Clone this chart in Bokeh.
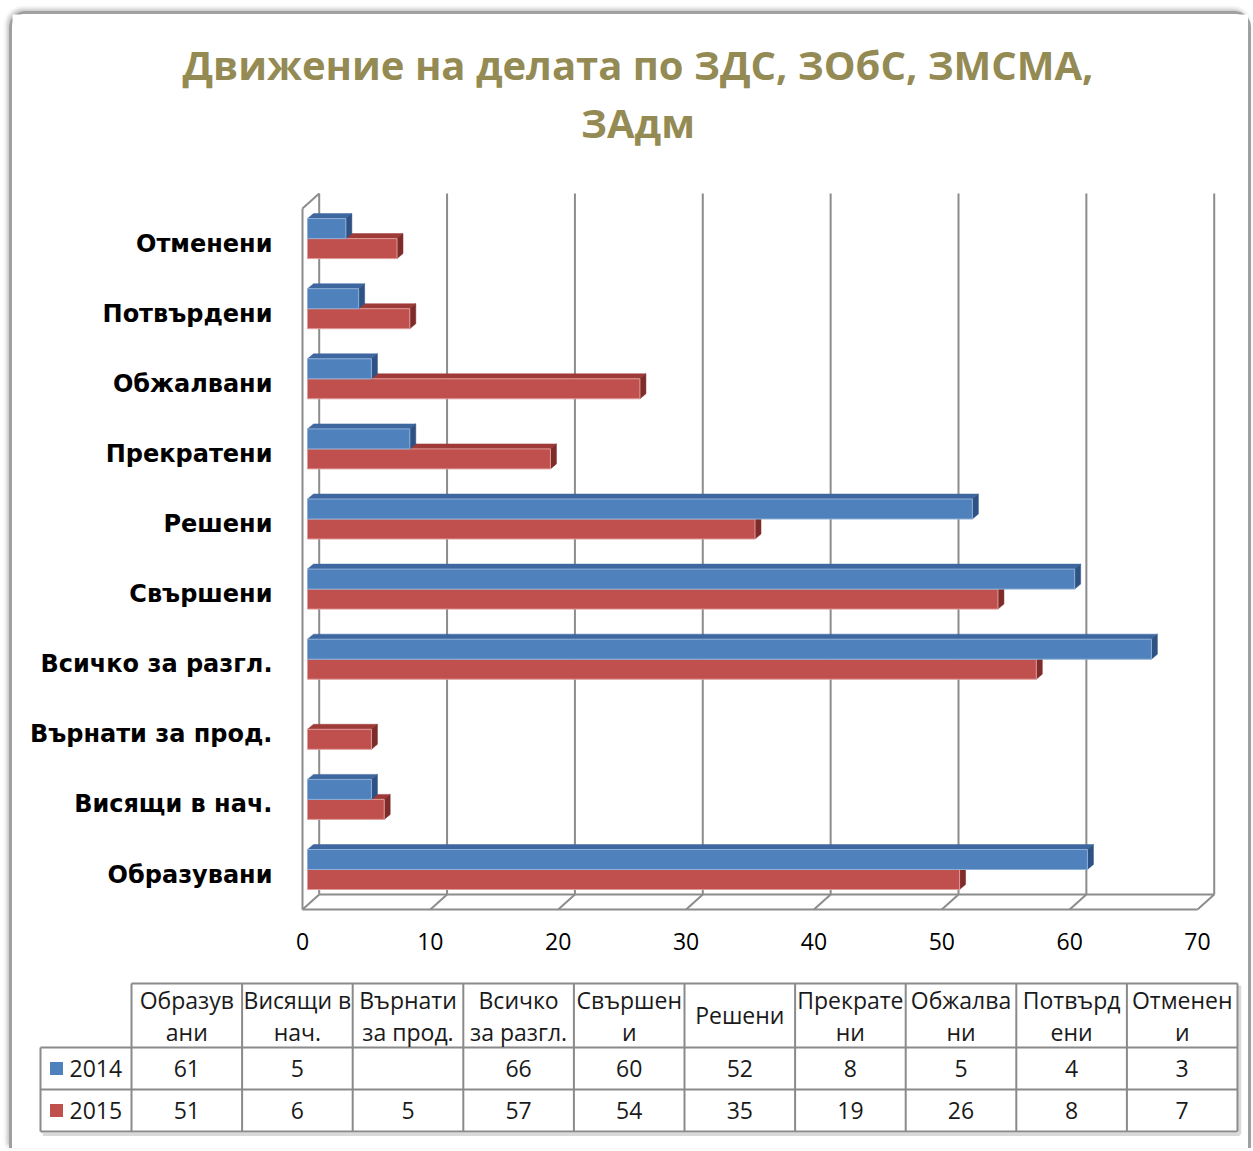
import numpy as np
from bokeh.plotting import figure
from bokeh.layouts import column
from bokeh.models import FixedTicker, Range1d
from bokeh.core.properties import value
from bokeh.embed import file_html
from bokeh.resources import INLINE

# ---------------- data ----------------
categories = ["Образувани", "Висящи в нач.", "Върнати за прод.", "Всичко за разгл.",
              "Свършени", "Решени", "Прекратени", "Обжалвани", "Потвърдени", "Отменени"]
series_names = ["2014", "2015"]
values_2014 = [61, 5, None, 66, 60, 52, 8, 5, 4, 3]
values_2015 = [51, 6, 5, 57, 54, 35, 19, 26, 8, 7]
x_ticks = [0, 10, 20, 30, 40, 50, 60, 70]
header_line1 = ["Образув", "Висящи в", "Върнати", "Всичко", "Свършен", "Решени",
                "Прекрате", "Обжалва", "Потвърд", "Отменен"]
header_line2 = ["ани", "нач.", "за прод.", "за разгл.", "и", "", "ни", "ни", "ени", "и"]
title_lines = ["Движение на делата по ЗДС, ЗОбС, ЗМСМА,", "ЗАдм"]

# ---------------- styles ----------------
BLUE, BLUE_TOP, BLUE_SIDE, BLUE_EDGE = "#4F81BD", "#3E67A0", "#2E5283", "#8FAFD6"
RED, RED_TOP, RED_SIDE, RED_EDGE = "#C0504D", "#9E3B38", "#7E2C2A", "#DE9C9A"
GRID = "#8C8C8C"
TITLE_COLOR = "#948A54"


def no_align(fig):
    if "frame_align" in fig.properties():
        fig.frame_align = False


# ---------------- page geometry ----------------
PAGE_X0, PAGE_Y0 = 12, 14          # top-left of the figures on the page
FIG_W = 1236
TITLE_BOTTOM = 176
CHART_BOTTOM = 960
TABLE_BOTTOM = 1148

# ---------------- title figure ----------------
p0 = figure(width=FIG_W, height=TITLE_BOTTOM - PAGE_Y0,
            x_range=Range1d(PAGE_X0, PAGE_X0 + FIG_W),
            y_range=Range1d(TITLE_BOTTOM, PAGE_Y0),
            x_axis_location=None, y_axis_location=None,
            output_backend="svg", toolbar_location=None, min_border=0,
            outline_line_color=None, border_fill_color="white")
p0.grid.visible = False
no_align(p0)
p0.text(x=[637.5, 637.5], y=[64, 122], text=title_lines,
        text_align="center", text_baseline="middle",
        text_font=value("Open Sans"), text_font_style="bold",
        text_font_size="40px", text_color=TITLE_COLOR)

# ---------------- chart figure ----------------
PX_X = 12.786      # px per unit on value axis
PX_Y = 70.1        # px per category
X0_PAGE = 302.0    # page x of value 0 (front plane)
Y0_PAGE = 874.0    # page y of first category (front plane)

frame_left_page, frame_width = 296, 922
frame_top_page, frame_bottom_page = 190, 916

mbl = frame_left_page - PAGE_X0
mbr = FIG_W - mbl - frame_width
mbt = frame_top_page - TITLE_BOTTOM
mbb = CHART_BOTTOM - frame_bottom_page
fig1_h = CHART_BOTTOM - TITLE_BOTTOM

x_start = (frame_left_page - X0_PAGE) / PX_X
x_end = x_start + frame_width / PX_X
y_start = (Y0_PAGE - frame_bottom_page) / PX_Y
y_end = (Y0_PAGE - frame_top_page) / PX_Y

# 3D offsets (in data units)
OFF_X, OFF_Y = 5 / PX_X, 5 / PX_Y          # bars set back from front plane
BAR_H = 20 / PX_Y
DEP_X, DEP_Y = 6 / PX_X, 5 / PX_Y          # bar depth
WALL_X, WALL_Y = 16.7 / PX_X, 15 / PX_Y    # wall depth

p = figure(width=FIG_W, height=fig1_h,
           x_range=Range1d(x_start, x_end), y_range=Range1d(y_start, y_end),
           output_backend="svg", toolbar_location=None,
           min_border_left=mbl, min_border_right=mbr,
           min_border_top=mbt, min_border_bottom=mbb,
           outline_line_color=None, background_fill_color="white",
           border_fill_color="white")
p.xgrid.visible = False
p.ygrid.visible = False
no_align(p)

p.xaxis.ticker = FixedTicker(ticks=x_ticks)
p.xaxis.axis_line_color = None
p.xaxis.major_tick_line_color = None
p.xaxis.minor_tick_line_color = None
p.xaxis.major_label_standoff = 10
p.xaxis.major_label_text_font = "Open Sans"
p.xaxis.major_label_text_font_size = "23px"
p.xaxis.major_label_text_color = "#000000"

p.yaxis.ticker = FixedTicker(ticks=list(range(len(categories))))
p.yaxis.major_label_overrides = {i: c for i, c in enumerate(categories)}
p.yaxis.axis_line_color = None
p.yaxis.major_tick_line_color = None
p.yaxis.minor_tick_line_color = None
p.yaxis.major_label_standoff = 18
p.yaxis.major_label_text_font = "DejaVu Sans"
p.yaxis.major_label_text_font_style = "bold"
p.yaxis.major_label_text_font_size = "24px"
p.yaxis.major_label_text_color = "#000000"

# walls and floor
n = len(categories)
y_lo, y_hi = -0.5, n - 0.5
xmax = x_ticks[-1]
gx0, gy0, gx1, gy1 = [], [], [], []
for t in x_ticks:
    gx0.append(t + WALL_X); gy0.append(y_lo + WALL_Y)
    gx1.append(t + WALL_X); gy1.append(y_hi + WALL_Y)
    gx0.append(t); gy0.append(y_lo)
    gx1.append(t + WALL_X); gy1.append(y_lo + WALL_Y)
gx0 += [0, WALL_X]; gy0 += [y_lo, y_lo + WALL_Y]
gx1 += [xmax, xmax + WALL_X]; gy1 += [y_lo, y_lo + WALL_Y]
gx0 += [0, 0]; gy0 += [y_lo, y_hi]
gx1 += [0, WALL_X]; gy1 += [y_hi, y_hi + WALL_Y]
p.segment(x0=gx0, y0=gy0, x1=gx1, y1=gy1, line_color=GRID, line_width=2)


def bar_parts(vals, upper):
    tops_x, tops_y, sides_x, sides_y = [], [], [], []
    yc, lefts, rights = [], [], []
    for i, v in enumerate(vals):
        if v is None:
            continue
        l = OFF_X
        r = OFF_X + v
        if upper:
            b = i + OFF_Y
            t = b + BAR_H
        else:
            t = i + OFF_Y
            b = t - BAR_H
        yc.append((b + t) / 2); lefts.append(l); rights.append(r)
        tops_x.append([l, l + DEP_X, r + DEP_X, r])
        tops_y.append([t, t + DEP_Y, t + DEP_Y, t])
        sides_x.append([r, r, r + DEP_X, r + DEP_X])
        sides_y.append([b, t, t + DEP_Y, b + DEP_Y])
    return yc, lefts, rights, tops_x, tops_y, sides_x, sides_y


for vals, upper, c_front, c_top, c_side, c_edge in [
        (values_2015, False, RED, RED_TOP, RED_SIDE, RED_EDGE),
        (values_2014, True, BLUE, BLUE_TOP, BLUE_SIDE, BLUE_EDGE)]:
    yc, lefts, rights, tx, ty, sx, sy = bar_parts(vals, upper)
    p.patches(xs=tx, ys=ty, fill_color=c_top, line_color=c_top, line_width=0.5)
    p.patches(xs=sx, ys=sy, fill_color=c_side, line_color=c_side, line_width=0.5)
    p.hbar(y=yc, left=lefts, right=rights, height=BAR_H,
           fill_color=c_front, line_color=c_edge, line_width=1)

# ---------------- data table ----------------
COL_W = 110.6
COL0_PAGE = 131.0
ROW_H = 42.0
ROW0_PAGE = 1131.0

tx_start = (PAGE_X0 - COL0_PAGE) / COL_W
tx_end = tx_start + FIG_W / COL_W
ty_start = (ROW0_PAGE - TABLE_BOTTOM) / ROW_H
ty_end = (ROW0_PAGE - CHART_BOTTOM) / ROW_H

p2 = figure(width=FIG_W, height=TABLE_BOTTOM - CHART_BOTTOM,
            x_range=Range1d(tx_start, tx_end), y_range=Range1d(ty_start, ty_end),
            x_axis_location=None, y_axis_location=None,
            output_backend="svg", toolbar_location=None, min_border=0,
            outline_line_color=None, background_fill_color="white",
            border_fill_color="white")
p2.grid.visible = False
no_align(p2)

ncol = len(categories)
legend_left = (40 - COL0_PAGE) / COL_W
header_top = (ROW0_PAGE - 983) / ROW_H
lx0, ly0, lx1, ly1 = [], [], [], []
for yy in [0, 1, 2]:
    lx0.append(legend_left); ly0.append(yy); lx1.append(ncol); ly1.append(yy)
lx0.append(0); ly0.append(header_top); lx1.append(ncol); ly1.append(header_top)
lx0.append(legend_left); ly0.append(0); lx1.append(legend_left); ly1.append(2)
for k in range(ncol + 1):
    lx0.append(k); ly0.append(0); lx1.append(k); ly1.append(header_top)
# soft shadow along the right and bottom of the table
sh = 3 / ROW_H
p2.segment(x0=[legend_left + 0.02, ncol + 0.02], y0=[-sh, -sh],
           x1=[ncol + 0.02, ncol + 0.02], y1=[-sh, header_top - 0.05],
           line_color="#D9D9D9", line_width=3)
p2.segment(x0=lx0, y0=ly0, x1=lx1, y1=ly1, line_color="#8A8A8A", line_width=2)

TFONT = value("Open Sans")
TSIZE = "23px"
hx, hy, ht = [], [], []
for k in range(ncol):
    if header_line2[k]:
        hx += [k + 0.5, k + 0.5]
        hy += [(ROW0_PAGE - 999) / ROW_H, (ROW0_PAGE - 1031) / ROW_H]
        ht += [header_line1[k], header_line2[k]]
    else:
        hx.append(k + 0.5); hy.append((ROW0_PAGE - 1014) / ROW_H); ht.append(header_line1[k])
p2.text(x=hx, y=hy, text=ht, text_align="center", text_baseline="middle",
        text_font=TFONT, text_font_size=TSIZE, text_color="#1A1A1A")

vx, vy, vt = [], [], []
for row_y, vals in [(1.5, values_2014), (0.5, values_2015)]:
    for k, v in enumerate(vals):
        vx.append(k + 0.5); vy.append(row_y); vt.append("" if v is None else str(v))
p2.text(x=vx, y=vy, text=vt, text_align="center", text_baseline="middle",
        text_font=TFONT, text_font_size=TSIZE, text_color="#1A1A1A")

mark_x = (56 - COL0_PAGE) / COL_W
name_x = (69 - COL0_PAGE) / COL_W
p2.scatter(x=[mark_x, mark_x], y=[1.5, 0.5], marker="square", size=13,
           fill_color=[BLUE, RED], line_color=None)
p2.text(x=[name_x, name_x], y=[1.5, 0.5], text=series_names, text_align="left",
        text_baseline="middle", text_font=TFONT, text_font_size=TSIZE,
        text_color="#1A1A1A")

layout = column(p0, p, p2, styles={
    "margin-left": "9px",
    "margin-top": "11px",
    "border-left": "3px solid #A0A0A0",
    "border-top": "3px solid #A0A0A0",
    "border-right": "3px solid #A0A0A0",
    "border-radius": "16px 16px 0 0",
    "box-shadow": "-2px -2px 4px rgba(0,0,0,0.25)",
})

open("out.html", "w").write(file_html(layout, INLINE))
